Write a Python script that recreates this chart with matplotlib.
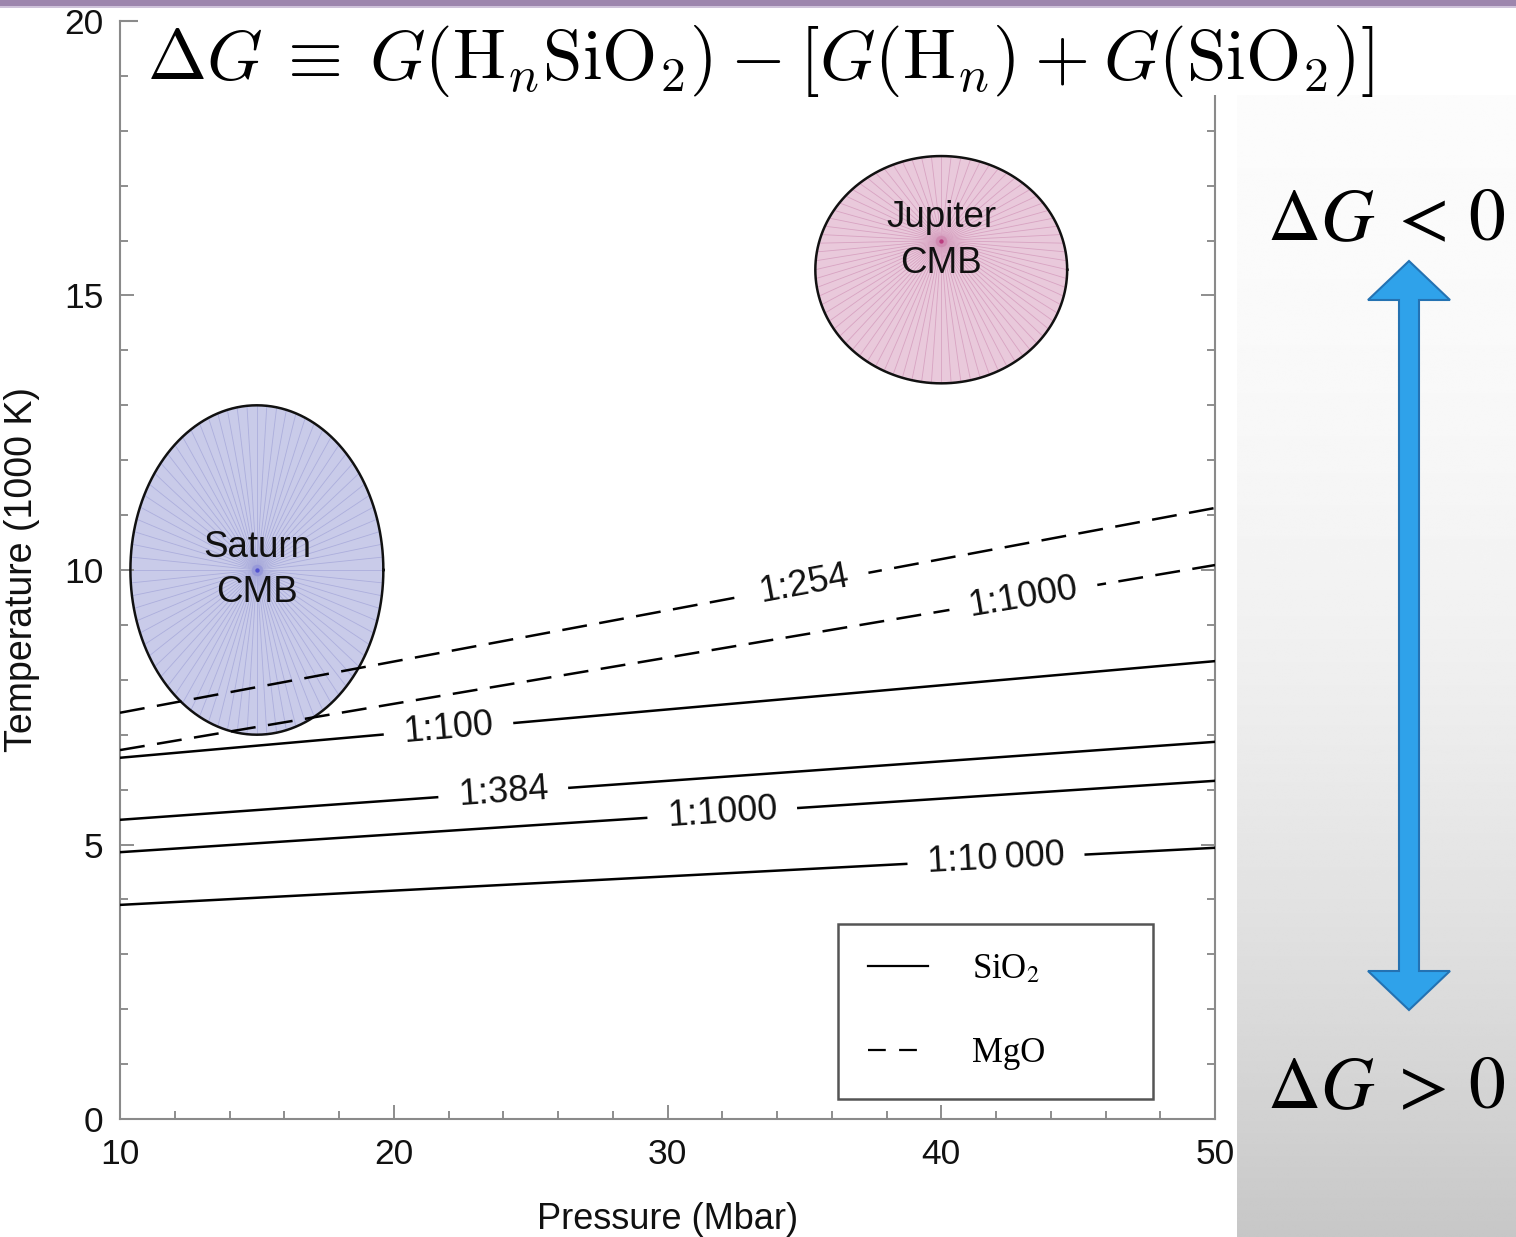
import numpy as np
import matplotlib
matplotlib.use("Agg")
import matplotlib.pyplot as plt
from matplotlib.patches import Rectangle, Polygon
from matplotlib.lines import Line2D
from matplotlib.path import Path
from matplotlib.ticker import MultipleLocator
from matplotlib.collections import LineCollection

# ---------------- data ----------------
pressure_ends = [10, 50]                      # Mbar
sio2_labels = ['1:100', '1:384', '1:1000', '1:10\u2009000']
sio2_T_start = [6.58, 5.45, 4.86, 3.90]        # 1000 K at 10 Mbar
sio2_T_end = [8.34, 6.87, 6.16, 4.94]          # 1000 K at 50 Mbar
sio2_label_P = [22.0, 24.0, 32.0, 42.0]
mgo_labels = ['1:254', '1:1000']
mgo_T_start = [7.40, 6.72]
mgo_T_end = [11.13, 10.09]
mgo_label_P = [35.0, 43.0]

cmb_names = ['Saturn\nCMB', 'Jupiter\nCMB']
cmb_P = [15.0, 40.0]            # marker / label position
cmb_T = [10.0, 16.0]
cmb_region_T = [10.0, 15.47]    # centre of the outlined region
cmb_half_P = [4.62, 4.60]
cmb_half_T = [3.00, 2.07]

x_ticks = [10, 20, 30, 40, 50]
y_ticks = [0, 5, 10, 15, 20]
legend_labels = ['SiO$_2$', 'MgO']

# ---------------- styles ----------------
cmb_fill = ['#c9cbe9', '#e9c9db']
cmb_spoke = ['#a9abdb', '#d69fbf']
cmb_dot = ['#4a4ad0', '#b8357a']
SANS = ['Liberation Sans', 'DejaVu Sans']
SERIF = ['Liberation Serif', 'DejaVu Serif']
plt.rcParams['font.family'] = SANS

W, H = 1516, 1237
fig = plt.figure(figsize=(W / 100, H / 100), dpi=100)
fig.patch.set_facecolor('white')
ax = fig.add_axes([120 / W, 1 - 1119 / H, 1095 / W, 1098 / H])
ax.set_xlim(10, 50)
ax.set_ylim(0, 20)

# ---------------- CMB regions ----------------
t = np.linspace(0, 2 * np.pi, 481)
for i in range(len(cmb_names)):
    px = cmb_P[i] + cmb_half_P[i] * np.cos(t)
    py = cmb_region_T[i] + cmb_half_T[i] * np.sin(t)
    ax.fill(px, py, color=cmb_fill[i], lw=0, zorder=1)
    segs = [[(cmb_P[i], cmb_T[i]), (px[k], py[k])] for k in range(0, 480, 6)]
    ax.add_collection(LineCollection(segs, colors=cmb_spoke[i], linewidths=0.6,
                                     alpha=0.9, zorder=1.2))
    ax.plot(px, py, color='#111111', lw=1.8, zorder=2)
    ax.scatter([cmb_P[i]], [cmb_T[i]], s=70, color=cmb_dot[i], alpha=0.18, lw=0, zorder=1.5)
    ax.scatter([cmb_P[i]], [cmb_T[i]], s=10, color=cmb_dot[i], alpha=0.9, lw=0, zorder=1.6)
    ax.text(cmb_P[i], cmb_T[i], cmb_names[i], ha='center', va='center',
            fontsize=26.5, linespacing=1.38, zorder=4, color='#111111')

# ---------------- boundary lines ----------------
def gap_box(x0, y0, width, height, mutation_size):
    padx = 0.55 * mutation_size
    pady = 0.02 * mutation_size
    x0 -= padx
    y0 -= pady
    x1 = x0 + width + 2 * padx
    y1 = y0 + height + 2 * pady
    return Path([(x0, y0), (x1, y0), (x1, y1), (x0, y1), (x0, y0)], closed=True)

def angle_of(P0, T0, P1, T1):
    a = ax.transData.transform([(P0, T0), (P1, T1)])
    return np.degrees(np.arctan2(a[1, 1] - a[0, 1], a[1, 0] - a[0, 0]))

def draw_set(starts, ends, labels, label_P, ls):
    for s0, s1, lab, lp in zip(starts, ends, labels, label_P):
        ax.plot(pressure_ends, [s0, s1], color='black', lw=1.8, ls=ls, zorder=3)
        frac = (lp - pressure_ends[0]) / (pressure_ends[1] - pressure_ends[0])
        lt = s0 + (s1 - s0) * frac
        ang = angle_of(pressure_ends[0], s0, pressure_ends[1], s1)
        ax.text(lp, lt, lab, rotation=ang, rotation_mode='anchor', ha='center',
                va='center', fontsize=26, zorder=5, color='#111111',
                bbox=dict(boxstyle=gap_box, facecolor='white', edgecolor='none'))

draw_set(sio2_T_start, sio2_T_end, sio2_labels, sio2_label_P, '-')
draw_set(mgo_T_start, mgo_T_end, mgo_labels, mgo_label_P, (0, (10, 5)))

# ---------------- axes styling ----------------
ax.set_xticks(x_ticks)
ax.set_yticks(y_ticks)
ax.xaxis.set_minor_locator(MultipleLocator(2))
ax.yaxis.set_minor_locator(MultipleLocator(1))
ax.tick_params(which='both', direction='in', top=True, right=True,
               color='#858585', width=1.3, labelcolor='#111111')
ax.tick_params(which='major', length=10, labelsize=25.5)
ax.tick_params(axis='x', which='major', pad=14)
ax.tick_params(axis='y', which='major', pad=12)
ax.tick_params(which='minor', length=5.5)
for sp in ax.spines.values():
    sp.set_color('#8a8a8a')
    sp.set_linewidth(1.5)
ax.set_xlabel('Pressure (Mbar)', fontsize=26, labelpad=22, color='#111111')
ax.set_ylabel('Temperature (1000 K)', fontsize=27, labelpad=17, color='#111111')

handles = [Line2D([], [], color='black', lw=1.6, ls='-'),
           Line2D([], [], color='black', lw=1.6, ls=(0, (8, 6)))]
leg = ax.legend(handles, legend_labels, loc='upper left',
                bbox_to_anchor=(838 / W, 1 - 1098 / H, 315 / W, 174 / H),
                bbox_transform=fig.transFigure, mode='expand', borderaxespad=0,
                prop=dict(family=SERIF, size=25, math_fontfamily='stix'),
                frameon=True, fancybox=False, shadow=False, framealpha=1,
                edgecolor='#555555', handlelength=1.75, handletextpad=1.25,
                borderpad=0.85, labelspacing=1.45)
leg.get_frame().set_linewidth(1.8)

# ---------------- slide decorations ----------------
pan = fig.add_axes([1237 / W, 0, (W - 1237) / W, (H - 95) / H], zorder=9)
pan.axis('off')
tt = np.linspace(0, 1, 400)[:, None]
grad = 0.985 - 0.205 * tt ** 2.1
pan.imshow(np.repeat(grad, 4, axis=1), cmap='gray', vmin=0, vmax=1,
           extent=(0, 1, 0, 1), aspect='auto', interpolation='bilinear', origin='upper')
pan.set_xlim(0, 1)
pan.set_ylim(0, 1)

ov = fig.add_axes([0, 0, 1, 1], zorder=10)
ov.set_facecolor('none')
ov.axis('off')
ov.add_patch(Rectangle((138, 6), W - 138, 89, facecolor='white', edgecolor='none', zorder=1))
ov.add_patch(Rectangle((0, 0), W, 6, facecolor='#9d86ad', edgecolor='none', zorder=2))
ov.add_patch(Rectangle((0, 6), W, 2, facecolor='#cfc3da', edgecolor='none', zorder=2))
ov.text(760, 79,
        r'$\Delta G \:\equiv\: G(\mathrm{H}_n\mathrm{SiO}_2) \:-\: [G(\mathrm{H}_n) \:+\: G(\mathrm{SiO}_2)]$',
        ha='center', va='baseline', fontsize=51, math_fontfamily='cm', zorder=3)
ov.text(1386, 240, r'$\Delta G\;<\,0$', ha='center', va='baseline', fontsize=53,
        math_fontfamily='stix', zorder=3)
ov.text(1386, 1108, r'$\Delta G\;>\,0$', ha='center', va='baseline', fontsize=53,
        math_fontfamily='stix', zorder=3)
arrow = [(1409, 261), (1450, 300), (1419, 300), (1419, 971), (1450, 971), (1409, 1010),
         (1368, 971), (1399, 971), (1399, 300), (1368, 300)]
ov.add_patch(Polygon(arrow, closed=True, facecolor='#2fa2ea', edgecolor='#2472b2',
                     lw=1.5, zorder=3))
ov.set_xlim(0, W)
ov.set_ylim(H, 0)

fig.savefig('out.png', dpi=100)
